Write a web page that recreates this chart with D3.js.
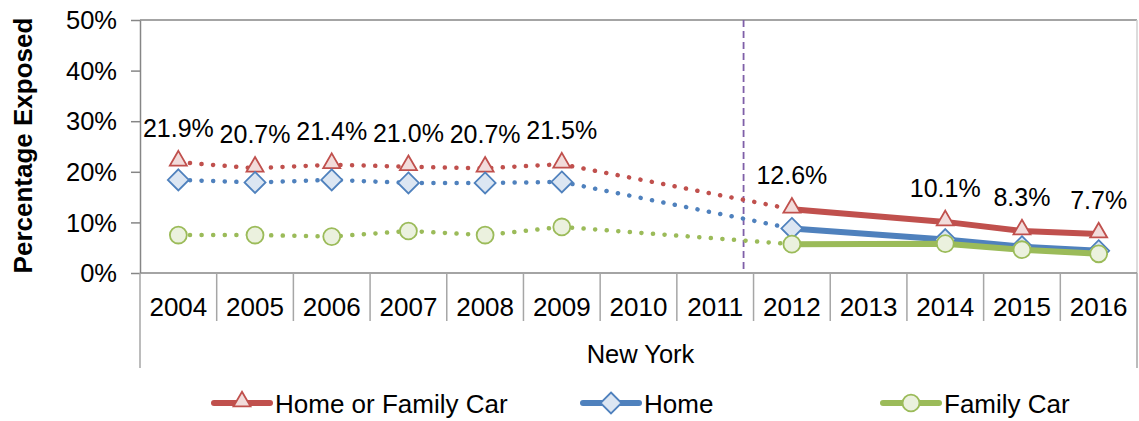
<!doctype html>
<html>
<head>
<meta charset="utf-8">
<script src="https://cdn.jsdelivr.net/npm/d3@7"></script>
<style>
  body { margin: 0; background: #fff; }
  text { font-family: "Liberation Sans", Arial, sans-serif; fill: #000; }
</style>
</head>
<body>
<div id="viz"></div>
<script>

var years = ['2004', '2005', '2006', '2007', '2008', '2009', '2010', '2011', '2012', '2013', '2014', '2015', '2016']

// percent exposed, null = no survey that year
var homeOrCar = [21.9, 20.7, 21.4, 21.0, 20.7, 21.5, null, null, 12.6, null, 10.1, 8.3, 7.7]
var home      = [18.4, 17.9, 18.4, 17.8, 17.8, 18.0, null, null, 8.8, null, 6.6, 5.2, 4.4]
var familyCar = [7.5, 7.5, 7.2, 8.3, 7.5, 9.1, null, null, 5.7, null, 5.8, 4.6, 3.8]

var yTicks = [0, 10, 20, 30, 40, 50]
var groupLabel = 'New York'
var splitYear = '2012'   // methodology change, lines go solid after this

var series = [
  { name: 'Home or Family Car', values: homeOrCar, color: '#C0504D', fill: '#F2DCDB', marker: 'triangle', labels: true },
  { name: 'Home', values: home, color: '#4F81BD', fill: '#DCE6F2', marker: 'diamond', labels: false },
  { name: 'Family Car', values: familyCar, color: '#9BBB59', fill: '#EBF1DE', marker: 'circle', labels: false }
]

var W = 1139, H = 421
var plotL = 140, plotR = 1137, plotT = 20, plotB = 273

var svg = d3.select('#viz').append('svg')
  .attr('width', W)
  .attr('height', H)

var x = d3.scaleBand().domain(years).range([plotL, plotR]).padding(0)
var y = d3.scaleLinear().domain([0, 50]).range([plotB, plotT])
var cx = function(yr) { return x(yr) + x.bandwidth() / 2 }

// frame
svg.append('line')
  .attr('x1', plotL).attr('x2', plotR).attr('y1', plotT).attr('y2', plotT)
  .style('stroke', '#868686').style('stroke-width', 1.5)
svg.append('line')
  .attr('x1', plotR).attr('x2', plotR).attr('y1', plotT).attr('y2', plotB)
  .style('stroke', '#d0d0d0').style('stroke-width', 1.5)

// y axis
var yAxis = svg.append('g')
  .attr('transform', 'translate(' + plotL + ',0)')
  .call(d3.axisLeft(y).tickValues(yTicks).tickSize(9).tickSizeOuter(0)
    .tickFormat(function(d) { return d + '%' }))
yAxis.select('.domain').style('stroke', '#868686').style('stroke-width', 1.5)
yAxis.selectAll('.tick line').style('stroke', '#868686').style('stroke-width', 1.5)
yAxis.selectAll('.tick text')
  .attr('x', -23)
  .attr('dy', '0.34em')
  .style('font-size', '25.5px')
  .style('font-family', '"Liberation Sans", Arial, sans-serif')

svg.append('text')
  .attr('transform', 'translate(32,' + ((plotT + plotB) / 2 - 1) + ') rotate(-90)')
  .attr('text-anchor', 'middle')
  .style('font-size', '26px')
  .style('font-weight', 'bold')
  .text('Percentage Exposed')

// x axis: baseline, category dividers, labels
svg.append('line')
  .attr('x1', plotL).attr('x2', plotR).attr('y1', plotB).attr('y2', plotB)
  .style('stroke', '#868686').style('stroke-width', 1.5)

var edges = years.map(function(yr) { return x(yr) }).concat([plotR])
svg.selectAll('.divider')
  .data(edges)
  .enter()
  .append('line')
  .attr('class', 'divider')
  .attr('x1', function(d) { return d })
  .attr('x2', function(d) { return d })
  .attr('y1', plotB)
  .attr('y2', function(d, i) { return (i == 0 || i == edges.length - 1) ? 368 : 321 })
  .style('stroke', '#a6a6a6')
  .style('stroke-width', 1.5)

svg.selectAll('.yearLabel')
  .data(years)
  .enter()
  .append('text')
  .attr('class', 'yearLabel')
  .attr('x', cx)
  .attr('y', 316)
  .attr('text-anchor', 'middle')
  .style('font-size', '26px')
  .text(function(d) { return d })

svg.append('text')
  .attr('x', (plotL + plotR) / 2 + 2)
  .attr('y', 363)
  .attr('text-anchor', 'middle')
  .style('font-size', '25.5px')
  .text(groupLabel)

// divider for the survey change
var splitX = x(splitYear) - x.bandwidth() * 0.13
svg.append('line')
  .attr('x1', splitX).attr('x2', splitX).attr('y1', plotT).attr('y2', plotB)
  .style('stroke', '#7F5FA8')
  .style('stroke-width', 1.8)
  .style('stroke-dasharray', '7,4')

var markerPath = function(type) {
  if (type == 'triangle') return d3.symbol().type(d3.symbolTriangle).size(125)()
  if (type == 'diamond') return 'M0,-10.5L10.5,0L0,10.5L-10.5,0Z'
  return d3.symbol().type(d3.symbolCircle).size(225)()
}

var lineGen = d3.line()
  .x(function(d) { return cx(d.year) })
  .y(function(d) { return y(d.value) })

series.forEach(function(s) {
  var pts = years.map(function(yr, i) { return { year: yr, value: s.values[i] } })
    .filter(function(d) { return d.value != null })
  var splitIdx = years.indexOf(splitYear)
  var before = pts.filter(function(d) { return years.indexOf(d.year) <= splitIdx })
  var after = pts.filter(function(d) { return years.indexOf(d.year) >= splitIdx })

  svg.append('path')
    .attr('d', lineGen(before))
    .style('fill', 'none')
    .style('stroke', s.color)
    .style('stroke-width', 4.5)
    .style('stroke-linecap', 'round')
    .style('stroke-dasharray', '0.1,11.5')

  svg.append('path')
    .attr('d', lineGen(after))
    .style('fill', 'none')
    .style('stroke', s.color)
    .style('stroke-width', 6)
    .style('stroke-linejoin', 'round')

  svg.selectAll(null)
    .data(pts)
    .enter()
    .append('path')
    .attr('d', markerPath(s.marker))
    .attr('transform', function(d) {
      var dy = s.marker == 'triangle' ? -1.5 : 0
      return 'translate(' + cx(d.year) + ',' + (y(d.value) + dy) + ')'
    })
    .style('fill', s.fill)
    .style('stroke', s.color)
    .style('stroke-width', 1.8)

  if (s.labels) {
    svg.selectAll(null)
      .data(pts)
      .enter()
      .append('text')
      .attr('x', function(d) { return cx(d.year) })
      .attr('y', function(d) { return y(d.value) - 25 })
      .attr('text-anchor', 'middle')
      .style('font-size', '25px')
      .text(function(d) { return d.value.toFixed(1) + '%' })
  }
})

// legend
var legendX = [214, 583, 883]
var legend = svg.selectAll('.legend')
  .data(series)
  .enter()
  .append('g')
  .attr('class', 'legend')
  .attr('transform', function(d, i) { return 'translate(' + legendX[i] + ',403)' })

legend.append('line')
  .attr('x1', 0).attr('x2', 56).attr('y1', 0).attr('y2', 0)
  .style('stroke', function(d) { return d.color })
  .style('stroke-width', 6)
  .style('stroke-linecap', 'round')

legend.append('path')
  .attr('d', function(d) { return markerPath(d.marker) })
  .attr('transform', function(d) { return 'translate(28,' + (d.marker == 'triangle' ? -1.5 : 0) + ')' })
  .style('fill', function(d) { return d.fill })
  .style('stroke', function(d) { return d.color })
  .style('stroke-width', 1.8)

legend.append('text')
  .attr('x', 61)
  .attr('y', 10)
  .style('font-size', '26px')
  .text(function(d) { return d.name })

</script>
</body>
</html>
